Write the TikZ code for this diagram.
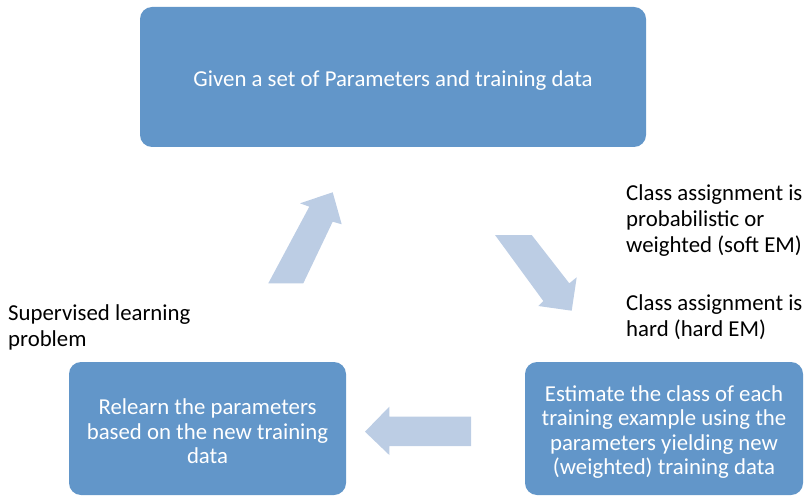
\documentclass[tikz,border=0pt]{standalone}
\usepackage{fontspec}
\setmainfont{Carlito}
\usepackage{tikz}
\usetikzlibrary{positioning}

\definecolor{boxblue}{RGB}{98,150,201}
\definecolor{arrowblue}{RGB}{188,205,228}

\tikzset{
  stepbox/.style={rectangle, rounded corners=12pt, fill=boxblue, text=white,
    align=center, inner sep=0pt, text depth=0pt, font=\fontsize{22.8}{24.3}\selectfont},
  note/.style={align=left, inner sep=0pt, anchor=north west,
    font=\fontsize{22.8}{25.8}\selectfont},
  bigarrow/.style={fill=arrowblue, draw=none}
}

\begin{document}
\begin{tikzpicture}[x=1pt,y=-1pt]
        \useasboundingbox (0,0) rectangle (808,497);

        \node[stepbox, minimum width=506pt, minimum height=140pt, text height=19pt] (given) at (393,77)
          {Given a set of Parameters and training data};
        \node[stepbox, minimum width=278pt, minimum height=133pt, text height=92pt] (estimate) at (664,428.5)
          {Estimate the class of each\\training example using the\\parameters yielding new\\(weighted) training data};
        \node[stepbox, minimum width=277pt, minimum height=133pt, text height=70pt] (relearn) at (207.5,428.5)
          {Relearn the parameters\\based on the new training\\data};

        \node[note] (soft) at (626,184.5) {Class assignment is\\probabilistic or\\weighted (soft EM)};
        \node[note] (hard) at (626,294.5) {Class assignment is\\hard (hard EM)};
        \node[note] (supervised) at (8,304.5) {Supervised learning\\problem};

        % block arrows of the cycle
        \fill[bigarrow] (268.3,283.3) -- (309.3,206.7) -- (300,203.3) -- (332.7,192.3)
          -- (341.7,224.3) -- (332.7,221.7) -- (303.3,283.3) -- cycle;
        \fill[bigarrow] (495,235) -- (531.7,235) -- (569.3,283.3) -- (576.7,277.3)
          -- (571.7,310.7) -- (538.3,306) -- (543.3,301) -- cycle;
        \fill[bigarrow] (471,416.7) -- (389.3,416.7) -- (389.3,406.7) -- (365,431.7)
          -- (389.3,455) -- (389.3,446) -- (471,446) -- cycle;
      \end{tikzpicture}
\end{document}
